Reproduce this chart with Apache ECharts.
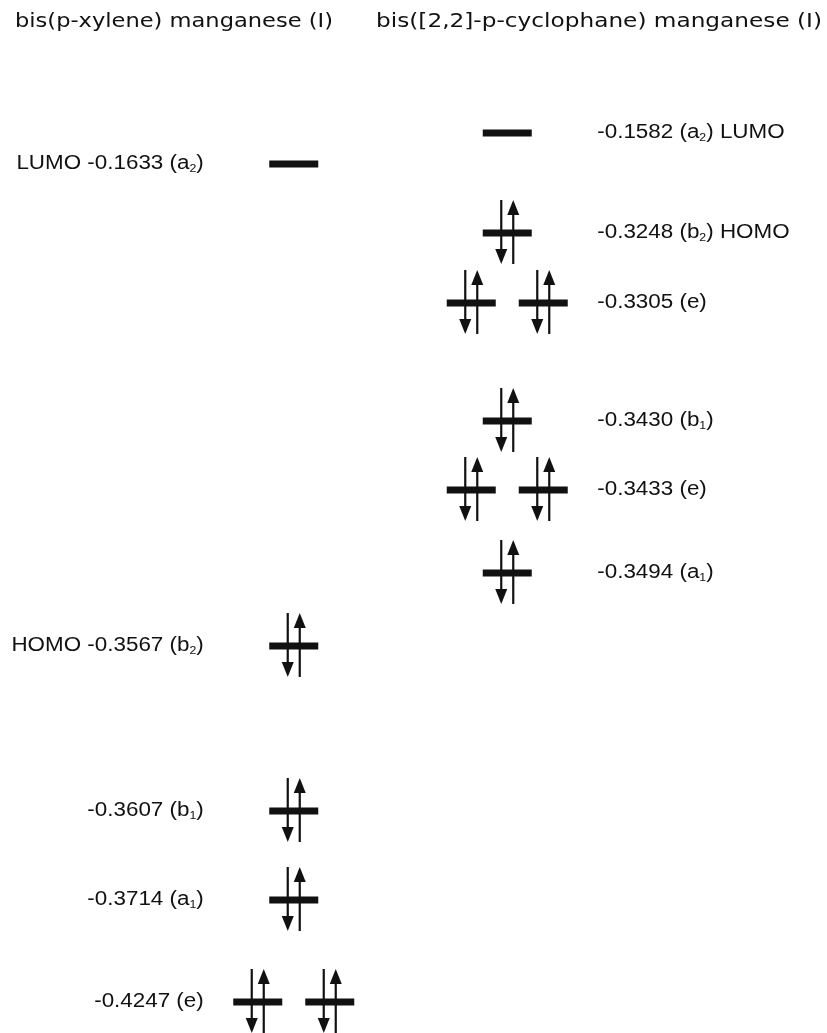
<!DOCTYPE html>
<html>
<head>
<meta charset="utf-8">
<script src="https://cdn.jsdelivr.net/npm/echarts@6/dist/echarts.min.js"></script>
<style>
html,body{margin:0;padding:0;background:#fff}
#chart{width:827px;height:1033px}
</style>
</head>
<body>
<div id="chart"></div>
<script>
// ---- Data ----
const moleculeNames = ['bis(p-xylene) manganese (I)', 'bis([2,2]-p-cyclophane) manganese (I)'];

// bis(p-xylene) manganese (I)
const xyleneEnergies   = [-0.1633, -0.3567, -0.3607, -0.3714, -0.4247];
const xyleneSymmetry   = ['a2', 'b2', 'b1', 'a1', 'e'];
const xyleneTags       = ['LUMO', 'HOMO', '', '', ''];
const xyleneDegeneracy = [1, 1, 1, 1, 2];
const xyleneElectrons  = [0, 2, 2, 2, 4];
const xyleneLevelHeight = [86.9, 38.7, 22.2, 13.3, 3.1];   // schematic diagram height (arbitrary units)

// bis([2,2]-p-cyclophane) manganese (I)
const cycloEnergies   = [-0.1582, -0.3248, -0.3305, -0.3430, -0.3433, -0.3494];
const cycloSymmetry   = ['a2', 'b2', 'e', 'b1', 'e', 'a1'];
const cycloTags       = ['LUMO', 'HOMO', '', '', '', ''];
const cycloDegeneracy = [1, 1, 2, 1, 2, 1];
const cycloElectrons  = [0, 2, 4, 2, 4, 2];
const cycloLevelHeight = [90.0, 80.0, 73.0, 61.2, 54.3, 46.0];

// ---- Styling constants ----
const INK = '#111';
const BAR_W = 49, BAR_H = 7, DEG_OFFSET = 36;
const ARROW_UP_EXT = 33, ARROW_DOWN_EXT = 31, ARROW_DX = 6, HEAD_L = 15, HEAD_W = 12;
const LABEL_FONT = '"Liberation Sans", Arial, sans-serif';
const TITLE_FONT = '"DejaVu Sans", sans-serif';

function measure(text, font) {
  const c = document.createElement('canvas').getContext('2d');
  c.font = font;
  return c.measureText(text).width;
}

function symRich(sym) {
  const letter = sym.charAt(0), sub = sym.slice(1);
  return sub ? '{n|' + letter + '}{s|' + sub + '}' : '{n|' + letter + '}';
}

function makeLabel(side, energy, sym, tag) {
  const e = energy.toFixed(4);
  if (side === 0) {
    return '{n|' + (tag ? tag + ' ' : '') + e + ' (}' + symRich(sym) + '{n|)}';
  }
  return '{n|' + e + ' (}' + symRich(sym) + '{n|)' + (tag ? ' ' + tag : '') + '}';
}

function arrow(cx, cy, dir) {
  const top = cy - ARROW_UP_EXT, bot = cy + ARROW_DOWN_EXT;
  const els = [];
  if (dir > 0) {
    els.push({type: 'line', shape: {x1: cx, y1: bot, x2: cx, y2: top + HEAD_L - 1}, style: {stroke: INK, lineWidth: 2.2}});
    els.push({type: 'polygon', shape: {points: [[cx - HEAD_W / 2, top + HEAD_L], [cx + HEAD_W / 2, top + HEAD_L], [cx, top]]}, style: {fill: INK}});
  } else {
    els.push({type: 'line', shape: {x1: cx, y1: top, x2: cx, y2: bot - HEAD_L + 1}, style: {stroke: INK, lineWidth: 2.2}});
    els.push({type: 'polygon', shape: {points: [[cx - HEAD_W / 2, bot - HEAD_L], [cx + HEAD_W / 2, bot - HEAD_L], [cx, bot]]}, style: {fill: INK}});
  }
  return els;
}

function makeRenderItem(energies, syms, tags) {
  return function (params, api) {
    const col = api.value(0), deg = api.value(2), el = api.value(3), i = api.value(4);
    const p = api.coord([col, api.value(1)]);
    const children = [];
    const perLevel = el / deg;
    for (let k = 0; k < deg; k++) {
      const cx = p[0] + (deg === 2 ? (k === 0 ? -DEG_OFFSET : DEG_OFFSET) : 0);
      children.push({type: 'rect', shape: {x: cx - BAR_W / 2, y: p[1] - BAR_H / 2, width: BAR_W, height: BAR_H}, style: {fill: INK}});
      if (perLevel >= 2) children.push(...arrow(cx - ARROW_DX, p[1], -1));
      if (perLevel >= 1) children.push(...arrow(cx + ARROW_DX, p[1], 1));
    }
    const lx = col === 0 ? p[0] - 90 : p[0] + 90;
    children.push({
      type: 'text', x: lx, y: p[1] - 1, scaleX: 1.12,
      style: {
        text: makeLabel(col, energies[i], syms[i], tags[i]),
        align: col === 0 ? 'right' : 'left', verticalAlign: 'middle',
        fill: INK, fontSize: 20, fontFamily: LABEL_FONT,
        rich: {
          n: {fontSize: 20, fontFamily: LABEL_FONT, lineHeight: 22, fill: INK},
          s: {fontSize: 11, fontFamily: LABEL_FONT, lineHeight: 11, verticalAlign: 'bottom', fill: INK}
        }
      }
    });
    return {type: 'group', children: children};
  };
}

function seriesData(col, heights, deg, el) {
  return heights.map((h, i) => [col, h, deg[i], el[i], i]);
}

const titleFont = '19px ' + TITLE_FONT;
const titleScale0 = 318 / measure(moleculeNames[0], titleFont);
const titleScale1 = 446 / measure(moleculeNames[1], titleFont);

const chart = echarts.init(document.getElementById('chart'), null, {renderer: 'canvas'});
chart.setOption({
  backgroundColor: '#fff',
  animation: false,
  grid: {left: 187, right: 213, top: 0, bottom: 0},
  xAxis: {type: 'category', data: moleculeNames, show: false, boundaryGap: true},
  yAxis: {type: 'value', min: 0, max: 103.3, show: false},
  graphic: [
    {type: 'text', x: 15, y: 22, scaleX: titleScale0,
     style: {text: moleculeNames[0], fontSize: 19, fontFamily: TITLE_FONT, fill: INK, align: 'left', verticalAlign: 'middle'}},
    {type: 'text', x: 376, y: 22, scaleX: titleScale1,
     style: {text: moleculeNames[1], fontSize: 19, fontFamily: TITLE_FONT, fill: INK, align: 'left', verticalAlign: 'middle'}}
  ],
  series: [
    {type: 'custom', coordinateSystem: 'cartesian2d', clip: false,
     encode: {x: 0, y: 1},
     renderItem: makeRenderItem(xyleneEnergies, xyleneSymmetry, xyleneTags),
     data: seriesData(0, xyleneLevelHeight, xyleneDegeneracy, xyleneElectrons)},
    {type: 'custom', coordinateSystem: 'cartesian2d', clip: false,
     encode: {x: 0, y: 1},
     renderItem: makeRenderItem(cycloEnergies, cycloSymmetry, cycloTags),
     data: seriesData(1, cycloLevelHeight, cycloDegeneracy, cycloElectrons)}
  ]
});
</script>
</body>
</html>
